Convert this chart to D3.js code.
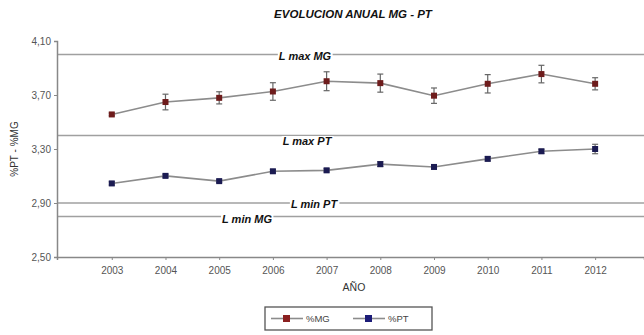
<!DOCTYPE html>
<html>
<head>
<meta charset="utf-8">
<script src="https://cdn.jsdelivr.net/npm/d3@7"></script>
<style>
  body { margin: 0; background: #fff; }
  svg { display: block; font-family: "Liberation Sans", Arial, sans-serif; }
</style>
</head>
<body>
<svg id="chart" width="644" height="335"></svg>
<script>
// data
var years = [2003, 2004, 2005, 2006, 2007, 2008, 2009, 2010, 2011, 2012];
var mgValues = [3.556, 3.648, 3.679, 3.726, 3.802, 3.788, 3.695, 3.783, 3.855, 3.783];
var mgErrors = [0.01, 0.058, 0.045, 0.065, 0.07, 0.067, 0.057, 0.068, 0.065, 0.045];
var ptValues = [3.045, 3.101, 3.062, 3.135, 3.142, 3.188, 3.167, 3.227, 3.283, 3.300];
var ptErrors = [0.012, 0.012, 0.01, 0.012, 0.012, 0.018, 0.012, 0.015, 0.015, 0.035];
var yTicks = [2.50, 2.90, 3.30, 3.70, 4.10];
var limitNames = ["L max MG", "L max PT", "L min PT", "L min MG"];
var limitValues = [4.00, 3.40, 2.90, 2.80];

var svg = d3.select("#chart");
var margin = {top: 41, right: 0, bottom: 78, left: 57};
var width = 644, height = 335;

var x = d3.scaleLinear()
  .domain([2001.98, 2012.91])
  .range([margin.left, width - margin.right]);
var y = d3.scaleLinear()
  .domain([2.50, 4.10])
  .range([height - margin.bottom, margin.top]);

// title
svg.append("text")
  .attr("x", 353).attr("y", 18)
  .attr("text-anchor", "middle")
  .style("font-weight", "bold").style("font-style", "italic")
  .style("font-size", "11.5px").attr("fill", "#111")
  .text("EVOLUCION ANUAL MG - PT");

// limit lines
var limX = [305, 307, 314, 247];
var limDy = [5, 9.5, 5, 6.5];
limitValues.forEach(function(v, i) {
  svg.append("line")
    .attr("x1", margin.left).attr("x2", width)
    .attr("y1", y(v)).attr("y2", y(v))
    .attr("stroke", "#a0a0a0").attr("stroke-width", 1.5);
  var t = svg.append("text")
    .attr("x", limX[i]).attr("y", y(v) + limDy[i])
    .attr("text-anchor", "middle")
    .style("font-weight", "bold").style("font-style", "italic")
    .style("font-size", "11px").attr("fill", "#111")
    .text(limitNames[i]);
  var bb = t.node().getBBox();
  svg.insert("rect", function() { return t.node(); })
    .attr("x", bb.x - 1).attr("y", y(v) + limDy[i] - 9)
    .attr("width", bb.width + 2).attr("height", 10)
    .attr("fill", "#fff");
});

// axes
var yAxis = d3.axisLeft(y).tickValues(yTicks).tickSize(3)
  .tickFormat(function(d) { return d3.format(".2f")(d).replace(".", ","); });
var gy = svg.append("g")
  .attr("transform", "translate(" + margin.left + ",0)")
  .call(yAxis);
gy.select(".domain").attr("stroke", "#888").attr("stroke-width", 1.5);
gy.selectAll(".tick line").attr("stroke", "#888");
gy.selectAll("text").attr("fill", "#555").style("font-size", "10px");

var xAxis = d3.axisBottom(x).tickValues(years).tickSize(3)
  .tickFormat(d3.format("d"));
var gx = svg.append("g")
  .attr("transform", "translate(0," + y(2.50) + ")")
  .call(xAxis);
gx.select(".domain").attr("stroke", "#888").attr("stroke-width", 1.5);
gx.selectAll(".tick line").attr("stroke", "#888");
gx.selectAll("text").attr("fill", "#555").style("font-size", "10px").attr("dy", "1.05em");

svg.append("text")
  .attr("x", 354).attr("y", 291)
  .attr("text-anchor", "middle")
  .style("font-size", "10.5px").attr("fill", "#333")
  .text("AÑO");

svg.append("text")
  .attr("transform", "translate(18," + y(3.30) + ") rotate(-90)")
  .attr("text-anchor", "middle")
  .style("font-size", "10px").attr("fill", "#333")
  .text("%PT - %MG");

// series
var series = [
  {name: "%MG", values: mgValues, errors: mgErrors, color: "#6e1c1c"},
  {name: "%PT", values: ptValues, errors: ptErrors, color: "#1b1b52"}
];

var line = d3.line()
  .x(function(d, i) { return x(years[i]); })
  .y(function(d) { return y(d); });

series.forEach(function(s) {
  svg.append("path")
    .datum(s.values)
    .attr("fill", "none")
    .attr("stroke", "#8c8c8c")
    .attr("stroke-width", 1.6)
    .attr("d", line);

  var g = svg.append("g");
  s.values.forEach(function(v, i) {
    var cx = x(years[i]);
    var e = s.errors[i];
    g.append("line")
      .attr("x1", cx).attr("x2", cx)
      .attr("y1", y(v - e)).attr("y2", y(v + e))
      .attr("stroke", "#666").attr("stroke-width", 1.2);
    [v - e, v + e].forEach(function(w) {
      g.append("line")
        .attr("x1", cx - 3).attr("x2", cx + 3)
        .attr("y1", y(w)).attr("y2", y(w))
        .attr("stroke", "#666").attr("stroke-width", 1.2);
    });
    g.append("rect")
      .attr("x", cx - 3).attr("y", y(v) - 3)
      .attr("width", 6).attr("height", 6)
      .attr("fill", s.color);
  });
});

// legend
var legend = svg.append("g");
legend.append("rect")
  .attr("x", 265).attr("y", 307)
  .attr("width", 167).attr("height", 23)
  .attr("fill", "#fff").attr("stroke", "#555").attr("stroke-width", 1.3);
var legX = [271, 353];
series.forEach(function(s, i) {
  legend.append("line")
    .attr("x1", legX[i]).attr("x2", legX[i] + 32)
    .attr("y1", 318.5).attr("y2", 318.5)
    .attr("stroke", "#8c8c8c").attr("stroke-width", 1.6);
  legend.append("rect")
    .attr("x", legX[i] + 12).attr("y", 315)
    .attr("width", 7).attr("height", 7)
    .attr("fill", i === 0 ? "#8b2020" : "#1c1c78");
  legend.append("text")
    .attr("x", legX[i] + 35).attr("y", 322)
    .style("font-size", "9.5px").attr("fill", "#444")
    .text(s.name);
});
</script>
</body>
</html>
